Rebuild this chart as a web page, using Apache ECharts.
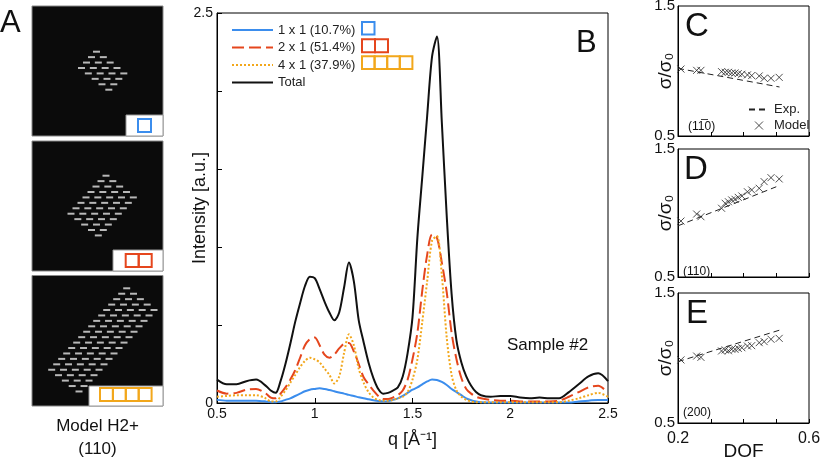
<!DOCTYPE html>
<html><head><meta charset="utf-8">
<script src="https://cdn.jsdelivr.net/npm/echarts/dist/echarts.min.js"></script>
<style>html,body{margin:0;padding:0;background:#fff}#c{width:821px;height:460px}</style>
</head><body><div id="c"></div>
<script>
// ---------- Panel B data ----------
const q = [0.5,0.55,0.6,0.65,0.7,
  0.75,0.775,0.8,0.825,0.85,0.875,0.9,0.925,0.95,0.975,1.0,1.025,1.05,1.075,1.1,1.125,1.15,1.175,1.2,1.225,1.25,1.275,1.3,1.325,1.35,1.375,1.4,1.425,1.45,1.475,1.5,1.525,1.55,1.575,1.6,1.625,1.65,1.675,1.7,1.725,1.75,1.775,1.8,1.825,1.85,
  1.9,1.95,2.0,2.05,2.1,2.15,2.2,2.25,2.3,2.35,2.4,2.45,2.5];
const total = [0.15,0.12,0.12,0.14,0.15,
  0.11,0.08,0.065,0.14,0.25,0.38,0.52,0.64,0.75,0.81,0.80,0.73,0.65,0.58,0.53,0.58,0.74,0.90,0.78,0.53,0.39,0.26,0.16,0.09,0.06,0.065,0.08,0.10,0.17,0.32,0.55,1.06,1.45,1.84,2.22,2.35,1.80,1.20,0.70,0.40,0.26,0.17,0.11,0.07,0.05,
  0.04,0.045,0.045,0.035,0.03,0.035,0.03,0.03,0.07,0.12,0.17,0.19,0.14];
const s2x1 = [0.08,0.06,0.065,0.085,0.09,
  0.06,0.035,0.03,0.06,0.10,0.15,0.21,0.29,0.37,0.41,0.42,0.37,0.31,0.29,0.31,0.35,0.38,0.385,0.33,0.25,0.165,0.12,0.08,0.045,0.025,0.025,0.035,0.05,0.08,0.15,0.28,0.45,0.72,0.95,1.08,1.06,0.90,0.71,0.45,0.28,0.16,0.09,0.06,0.04,0.03,
  0.02,0.015,0.015,0.01,0.01,0.01,0.01,0.015,0.04,0.07,0.10,0.11,0.065];
const s4x1 = [0.04,0.045,0.05,0.05,0.05,
  0.03,0.01,0.01,0.04,0.08,0.13,0.18,0.23,0.27,0.29,0.28,0.26,0.22,0.18,0.125,0.17,0.32,0.44,0.37,0.22,0.13,0.07,0.035,0.02,0.015,0.015,0.02,0.03,0.04,0.07,0.15,0.28,0.52,0.78,1.04,1.07,0.82,0.42,0.18,0.08,0.04,0.02,0.01,0.005,0.005,
  0.005,0.005,0.005,0.005,0.005,0.005,0.005,0.005,0.015,0.03,0.05,0.065,0.04];
const s1x1 = [0.02,0.015,0.015,0.015,0.015,
  0.01,0.005,0.005,0.01,0.02,0.03,0.045,0.06,0.075,0.085,0.09,0.094,0.09,0.083,0.075,0.067,0.06,0.052,0.045,0.037,0.03,0.024,0.018,0.013,0.01,0.012,0.02,0.03,0.045,0.065,0.085,0.10,0.12,0.138,0.15,0.148,0.135,0.115,0.09,0.07,0.05,0.03,0.018,0.01,0.005,
  0.003,0.003,0.003,0.003,0.003,0.003,0.003,0.003,0.003,0.01,0.015,0.02,0.02];
const seriesNames = ['1 x 1 (10.7%)','2 x 1 (51.4%)','4 x 1 (37.9%)','Total'];
const xTicksB = [0.5,1,1.5,2,2.5];
const yLabelsB = [0, 2.5];

// ---------- Panels C, D, E data ----------
const dof = [0.209,0.257,0.270,0.333,0.344,0.354,0.364,0.374,0.384,0.395,0.412,0.425,0.448,0.463,0.484,0.509];
const modelC = [1.015,1.005,1.005,0.995,0.99,0.99,0.985,0.985,0.98,0.975,0.97,0.965,0.962,0.944,0.944,0.951];
const modelD = [0.937,0.992,0.971,1.037,1.076,1.088,1.102,1.107,1.122,1.133,1.166,1.18,1.193,1.245,1.276,1.266];
const modelE = [0.985,1.015,1.005,1.054,1.062,1.056,1.067,1.067,1.074,1.079,1.092,1.095,1.118,1.126,1.144,1.151];
const expC = [[0.2,1.02],[0.51,0.877]];
const expD = [[0.2,0.90],[0.50,1.205]];
const expE = [[0.2,0.972],[0.511,1.215]];

// ---------- Panel A schematic (lattice counts per model) ----------
const latticeLong = [4, 8, 16];
const latticeShort = 5;

const FONT = 'Liberation Sans, Arial, Helvetica, sans-serif';
const BLUE = '#3b8ded', RED = '#e5461d', ORANGE = '#f2a71b';

// schematic dash positions
const latticeTop = [[96.5,51.7],[106,175.7],[126.7,288.3]];
const vP = [6.83,5.43], vQ = [-5.0,5.43];
function lattice(k){
  const pts=[];
  for(let p=0;p<latticeShort;p++) for(let r=0;r<latticeLong[k];r++){
    pts.push([latticeTop[k][0]+p*vP[0]+r*vQ[0], latticeTop[k][1]+p*vP[1]+r*vQ[1]]);
  }
  return pts;
}

function squares(x,y,n,size,color){
  const out=[];
  for(let i=0;i<n;i++) out.push({type:'rect',shape:{x:x+i*size,y:y,width:size,height:size},style:{fill:'none',stroke:color,lineWidth:2},z:10});
  return out;
}
function txt(t,x,y,size,opts){
  return Object.assign({type:'text',z:20,style:Object.assign({text:t,x:x,y:y,font:size+'px '+FONT,fill:'#111',textVerticalAlign:'top'},opts||{})});
}

const graphic = [
  {type:'rect',shape:{x:32,y:6,width:131,height:130},style:{fill:'#0b0b0b',stroke:'#888',lineWidth:1},z:0},
  {type:'rect',shape:{x:32,y:141,width:131,height:130},style:{fill:'#0b0b0b',stroke:'#888',lineWidth:1},z:0},
  {type:'rect',shape:{x:32,y:275.5,width:131,height:130.5},style:{fill:'#0b0b0b',stroke:'#888',lineWidth:1},z:0},
  {type:'rect',shape:{x:126,y:115,width:37,height:21},style:{fill:'#fff',stroke:'#999',lineWidth:1},z:9},
  {type:'rect',shape:{x:113,y:250,width:50,height:21},style:{fill:'#fff',stroke:'#999',lineWidth:1},z:9},
  {type:'rect',shape:{x:89,y:386,width:74,height:20},style:{fill:'#fff',stroke:'#999',lineWidth:1},z:9},
  ...squares(138,119,1,13,BLUE),
  ...squares(125.7,254,2,13,RED),
  ...squares(100,388,4,12.9,ORANGE),
  ...squares(362,22,1,12.5,BLUE),
  ...squares(362,39.3,2,13,RED),
  ...squares(362,56.3,4,12.6,ORANGE),
  txt('A',0,8,31),
  txt('B',576,28,31),
  txt('C',685,10,33),
  txt('D',684,153,33),
  txt('E',686,297,33),
  txt('Sample #2',507,345,17,{textVerticalAlign:'middle'}),
  txt('Model H2+',97.5,426,17,{textAlign:'center',textVerticalAlign:'middle'}),
  txt('(110)',97.5,449,17,{textAlign:'center',textVerticalAlign:'middle'}),
  txt('(11\u03050)',688,127,12,{textVerticalAlign:'middle'}),
  txt('(110)',683,272,12,{textVerticalAlign:'middle'}),
  txt('(200)',683,413,12,{textVerticalAlign:'middle'})
];

const axisCommon = {
  axisLine:{lineStyle:{color:'#000',width:1}},
  axisTick:{inside:true,length:5,lineStyle:{color:'#000'}},
  splitLine:{show:false},
  nameMoveOverlap:false
};
function near(v,list){return list.some(t=>Math.abs(t-v)<1e-6);}

const crossPath = 'path://M0,0L10,10M10,0L0,10';
function panelSeries(idx, model, exp){
  return [
    {name:'Exp.',type:'line',xAxisIndex:idx,yAxisIndex:idx,data:exp,symbol:'none',silent:true,
     lineStyle:{color:'#222',width:1,type:[6,4]},itemStyle:{color:'#222'},z:3},
    {name:'Model',type:'scatter',xAxisIndex:idx,yAxisIndex:idx,data:dof.map((d,i)=>[d,model[i]]),
     symbol:crossPath,symbolSize:7,itemStyle:{color:'transparent',borderColor:'#222',borderWidth:1},z:4}
  ];
}
const smallY = (idx)=>Object.assign({},axisCommon,{gridIndex:idx,type:'value',min:0.5,max:1.5,interval:0.5,
  axisTick:{show:false},
  axisLabel:{fontSize:15,color:'#111',margin:3,fontFamily:FONT,formatter:v=>near(v,[0.5,1.5])?v.toFixed(1):''},
  name:'σ/σ₀',nameLocation:'middle',nameGap:3,nameTextStyle:{fontSize:19,color:'#111',fontFamily:FONT}});
const smallX = (idx,labels)=>Object.assign({},axisCommon,{gridIndex:idx,type:'value',min:0.2,max:0.6,interval:0.1,
  axisTick:{inside:true,length:4,lineStyle:{color:'#000'}},
  axisLabel:{show:labels,fontSize:16,color:'#111',margin:8,fontFamily:FONT,formatter:v=>near(v,[0.2,0.6])?v.toFixed(1):''}});

const option = {
  animation:false,
  backgroundColor:'#fff',
  textStyle:{fontFamily:FONT},
  graphic:graphic,
  grid:[
    {left:0,top:0,width:821,height:460,show:false,outerBoundsMode:'none',containLabel:false},
    {left:217,top:13,width:391,height:390,show:true,borderColor:'#000',borderWidth:1,backgroundColor:'transparent',outerBoundsMode:'none',containLabel:false},
    {left:678,top:6,width:131,height:130,show:true,borderColor:'#000',borderWidth:1,backgroundColor:'transparent',outerBoundsMode:'none',containLabel:false},
    {left:678,top:149,width:131,height:128,show:true,borderColor:'#000',borderWidth:1,backgroundColor:'transparent',outerBoundsMode:'none',containLabel:false},
    {left:678,top:293,width:131,height:130,show:true,borderColor:'#000',borderWidth:1,backgroundColor:'transparent',outerBoundsMode:'none',containLabel:false}
  ],
  legend:[
    {data:seriesNames.map(n=>({name:n,itemStyle:{opacity:0}})),orient:'vertical',left:231,top:23.5,padding:0,itemWidth:41,itemHeight:12,itemGap:4.5,selectedMode:false,
     itemStyle:{opacity:0},lineStyle:{width:2},textStyle:{fontSize:13,color:'#222',fontFamily:FONT}},
    {data:[{name:'Exp.',itemStyle:{opacity:0}},'Model'],orient:'vertical',left:748,top:103,padding:0,itemWidth:20,itemHeight:8,itemGap:3,selectedMode:false,
     itemStyle:{borderWidth:1},textStyle:{fontSize:13,color:'#222',fontFamily:FONT}}
  ],
  xAxis:[
    {gridIndex:0,type:'value',min:0,max:821,show:false},
    Object.assign({},axisCommon,{gridIndex:1,type:'value',min:0.5,max:2.5,interval:0.5,
      axisLabel:{fontSize:14,color:'#111',margin:4,fontFamily:FONT,formatter:v=>near(v,xTicksB)?String(v):''},
      name:'q [Å⁻¹]',nameLocation:'middle',nameGap:28,nameTextStyle:{fontSize:18,color:'#111',fontFamily:FONT}}),
    smallX(2,false),
    smallX(3,false),
    Object.assign(smallX(4,true),{name:'DOF',nameLocation:'middle',nameGap:19,nameTextStyle:{fontSize:19,color:'#111',fontFamily:FONT}})
  ],
  yAxis:[
    {gridIndex:0,type:'value',min:0,max:460,inverse:true,show:false},
    Object.assign({},axisCommon,{gridIndex:1,type:'value',min:0,max:2.5,interval:0.5,
      axisLabel:{fontSize:14,color:'#111',margin:4,fontFamily:FONT,formatter:v=>near(v,yLabelsB)?String(v):''},
      name:'Intensity [a.u.]',nameLocation:'middle',nameGap:8,nameTextStyle:{fontSize:18,color:'#111',fontFamily:FONT}}),
    smallY(2),smallY(3),smallY(4)
  ],
  series:[
    ...[0,1,2].map(k=>({type:'scatter',xAxisIndex:0,yAxisIndex:0,data:lattice(k),symbol:'rect',symbolSize:[7,2],
      itemStyle:{color:'#e4e4e4'},silent:true,z:5})),
    {name:seriesNames[0],type:'line',xAxisIndex:1,yAxisIndex:1,data:q.map((x,i)=>[x,s1x1[i]]),symbol:'none',smooth:0.3,
     lineStyle:{color:BLUE,width:2},itemStyle:{color:BLUE}},
    {name:seriesNames[1],type:'line',xAxisIndex:1,yAxisIndex:1,data:q.map((x,i)=>[x,s2x1[i]]),symbol:'none',smooth:0.3,
     lineStyle:{color:RED,width:2,type:[12,5]},itemStyle:{color:RED}},
    {name:seriesNames[2],type:'line',xAxisIndex:1,yAxisIndex:1,data:q.map((x,i)=>[x,s4x1[i]]),symbol:'none',smooth:0.3,
     lineStyle:{color:ORANGE,width:2,type:[2,2]},itemStyle:{color:ORANGE}},
    {name:seriesNames[3],type:'line',xAxisIndex:1,yAxisIndex:1,data:q.map((x,i)=>[x,total[i]]),symbol:'none',smooth:0.3,
     lineStyle:{color:'#111',width:2},itemStyle:{color:'#111'}},
    ...panelSeries(2,modelC,expC),
    ...panelSeries(3,modelD,expD),
    ...panelSeries(4,modelE,expE)
  ]
};
const chart = echarts.init(document.getElementById('c'),null,{renderer:'canvas'});
chart.setOption(option);
</script></body></html>
